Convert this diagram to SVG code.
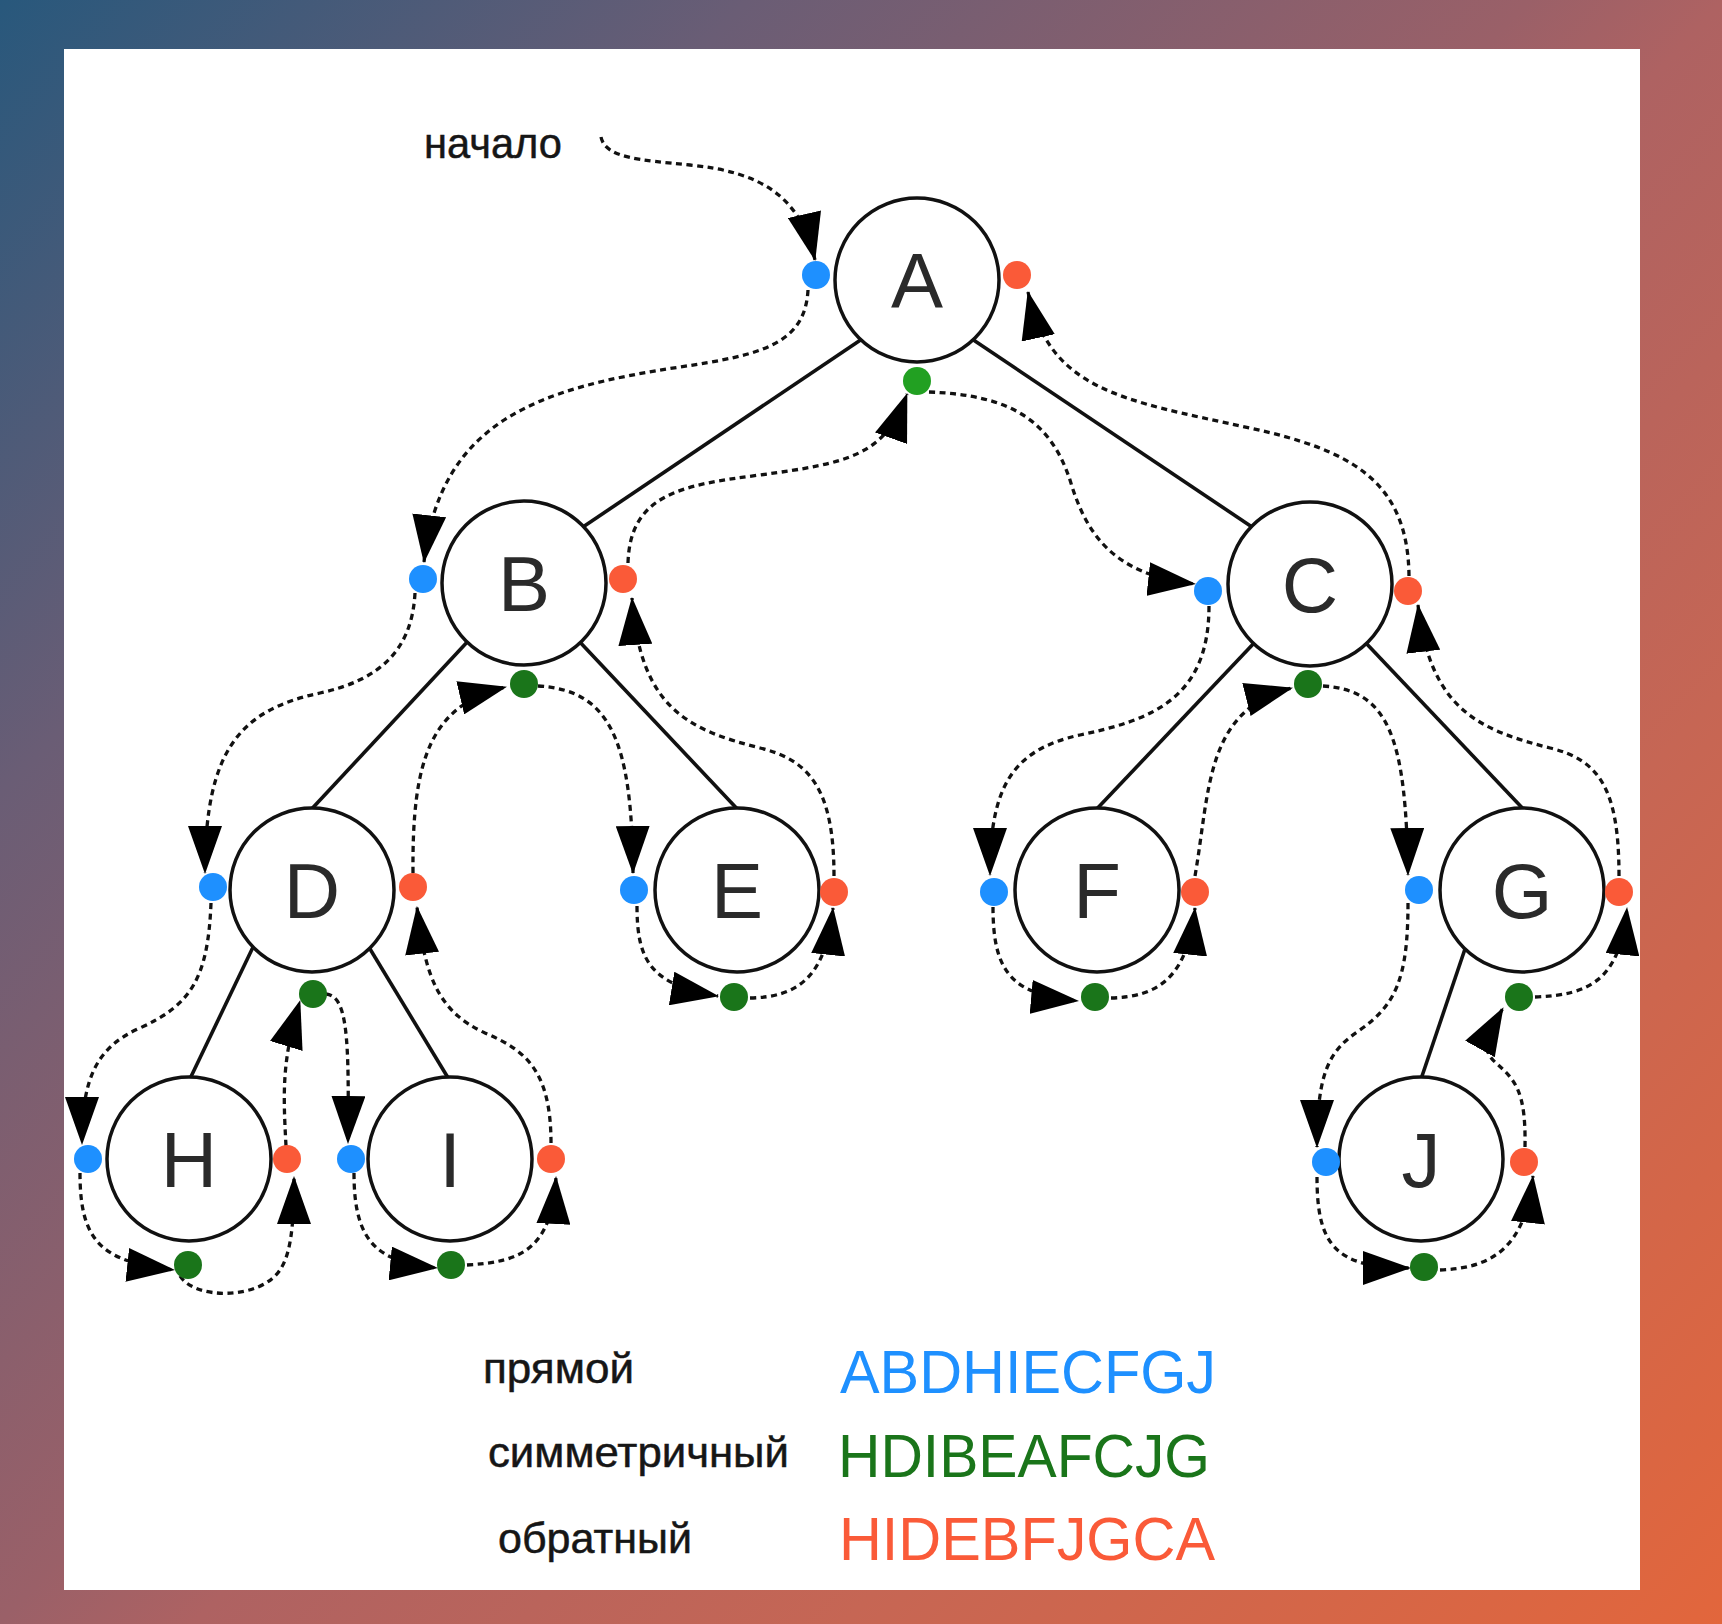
<svg xmlns="http://www.w3.org/2000/svg" width="1722" height="1624" viewBox="0 0 1722 1624">
<defs>
<linearGradient id="bg" x1="0" y1="0" x2="1722" y2="1624" gradientUnits="userSpaceOnUse">
<stop offset="0" stop-color="#28587c"/>
<stop offset="0.23" stop-color="#6a5d75"/>
<stop offset="0.47" stop-color="#9a6068"/>
<stop offset="0.53" stop-color="#ae6262"/>
<stop offset="0.73" stop-color="#c66654"/>
<stop offset="1" stop-color="#e2663c"/>
</linearGradient>
<marker id="ah" viewBox="0 0 48 34" markerWidth="48" markerHeight="34" refX="47" refY="17" orient="auto" markerUnits="userSpaceOnUse">
<path d="M0,0 L48,17 L0,34 Z" fill="#000"/>
</marker>
<style>
.edge{stroke:#111;stroke-width:3.6;fill:none}
.tour{stroke:#111;stroke-width:3.3;stroke-dasharray:6 4.5;fill:none;marker-end:url(#ah)}
.node{fill:#fff;stroke:#111;stroke-width:3.5}
.lbl{font-family:"Liberation Sans",Arial,sans-serif;font-size:78px;fill:#2a2a2a;text-anchor:middle}
.pre{fill:#1e90ff}
.in{fill:#1a751a}
.post{fill:#fa5a38}
.txt{font-family:"Liberation Sans",Arial,sans-serif;font-size:43px;fill:#161616;stroke:#161616;stroke-width:0.5}
.seq{font-family:"Liberation Sans",Arial,sans-serif;font-size:61px}
</style>
</defs>
<rect x="0" y="0" width="1722" height="1624" fill="url(#bg)"/>
<rect x="64" y="49" width="1576" height="1541" fill="#fff"/>

<g id="connectors">
<g id="edges">
<path class="edge" d="M865,337 L577,531"/>
<path class="edge" d="M969,337 L1258,531"/>
<path class="edge" d="M470,639 L307,814"/>
<path class="edge" d="M577,639 L742,814"/>
<path class="edge" d="M1256,641 L1092,814"/>
<path class="edge" d="M1364,641 L1528,814"/>
<path class="edge" d="M255,943 L187,1085"/>
<path class="edge" d="M367,944 L453,1086"/>
<path class="edge" d="M1466,946 L1419,1085"/>
</g>
<g id="traversal">
<path class="tour" d="M601,137 C605,158 640,160 690,165 C760,172 800,195 815,260"/>
<path class="tour" d="M808,290 C805,345 760,355 680,367 C540,388 440,420 424,562"/>
<path class="tour" d="M415,593 C412,650 380,680 320,693 C240,710 205,750 205,873"/>
<path class="tour" d="M211,903 C208,980 190,1005 140,1028 C95,1048 82,1080 82,1144"/>
<path class="tour" d="M80,1173 C80,1240 100,1262 174,1270"/>
<path class="tour" d="M180,1276 C195,1300 260,1300 280,1270 C290,1255 294,1230 294,1177"/>
<path class="tour" d="M286,1146 C283,1090 282,1060 300,1001"/>
<path class="tour" d="M326,994 C348,996 349,1040 348,1143"/>
<path class="tour" d="M354,1173 C354,1240 375,1262 437,1268"/>
<path class="tour" d="M467,1265 C520,1262 552,1250 556,1177"/>
<path class="tour" d="M551,1143 C551,1070 525,1050 485,1033 C440,1012 425,980 417,907"/>
<path class="tour" d="M413,873 C412,760 430,705 506,687"/>
<path class="tour" d="M538,686 C610,690 632,740 633,873"/>
<path class="tour" d="M637,906 C637,960 650,985 718,996"/>
<path class="tour" d="M750,998 C800,997 826,975 833,908"/>
<path class="tour" d="M834,876 C834,790 810,760 760,748 C690,730 640,710 632,598"/>
<path class="tour" d="M628,563 C630,495 680,485 760,475 C850,463 885,455 907,394"/>
<path class="tour" d="M929,392 C1010,395 1050,420 1070,480 C1085,530 1110,575 1195,584"/>
<path class="tour" d="M1209,606 C1209,700 1150,720 1080,735 C1010,750 990,790 990,875"/>
<path class="tour" d="M993,907 C993,970 1010,995 1078,1001"/>
<path class="tour" d="M1111,998 C1160,997 1188,975 1195,908"/>
<path class="tour" d="M1195,876 C1210,790 1205,710 1292,688"/>
<path class="tour" d="M1323,686 C1390,690 1406,740 1408,875"/>
<path class="tour" d="M1408,903 C1408,980 1395,1005 1360,1030 C1330,1050 1317,1070 1317,1147"/>
<path class="tour" d="M1317,1177 C1317,1245 1335,1268 1410,1268"/>
<path class="tour" d="M1440,1270 C1490,1268 1525,1250 1533,1176"/>
<path class="tour" d="M1525,1147 C1526,1090 1515,1080 1495,1062 C1482,1050 1485,1040 1503,1008"/>
<path class="tour" d="M1535,997 C1590,995 1620,980 1627,908"/>
<path class="tour" d="M1619,876 C1619,790 1600,760 1550,748 C1480,730 1430,710 1418,605"/>
<path class="tour" d="M1409,576 C1408,480 1350,450 1250,428 C1120,400 1050,390 1028,292"/>
</g>
</g>

<g id="node-A">
<circle class="node" cx="917" cy="280" r="82"/>
<text class="lbl" x="917" y="308">A</text>
<circle class="pre" cx="816" cy="275" r="14"/>
<circle class="post" cx="1017" cy="275" r="14"/>
<circle cx="917" cy="381" r="14" fill="#22a022"/>
</g>
<g id="node-B">
<circle class="node" cx="524" cy="583" r="82"/>
<text class="lbl" x="524" y="611">B</text>
<circle class="pre" cx="423" cy="579" r="14"/>
<circle class="post" cx="623" cy="579" r="14"/>
<circle class="in" cx="524" cy="684" r="14"/>
</g>
<g id="node-C">
<circle class="node" cx="1310" cy="584" r="82"/>
<text class="lbl" x="1310" y="612">C</text>
<circle class="pre" cx="1208" cy="591" r="14"/>
<circle class="post" cx="1408" cy="591" r="14"/>
<circle class="in" cx="1308" cy="684" r="14"/>
</g>
<g id="node-D">
<circle class="node" cx="312" cy="890" r="82"/>
<text class="lbl" x="312" y="918">D</text>
<circle class="pre" cx="213" cy="887" r="14"/>
<circle class="post" cx="413" cy="887" r="14"/>
<circle class="in" cx="313" cy="994" r="14"/>
</g>
<g id="node-E">
<circle class="node" cx="737" cy="890" r="82"/>
<text class="lbl" x="737" y="918">E</text>
<circle class="pre" cx="634" cy="890" r="14"/>
<circle class="post" cx="834" cy="892" r="14"/>
<circle class="in" cx="734" cy="997" r="14"/>
</g>
<g id="node-F">
<circle class="node" cx="1097" cy="890" r="82"/>
<text class="lbl" x="1097" y="918">F</text>
<circle class="pre" cx="994" cy="892" r="14"/>
<circle class="post" cx="1195" cy="892" r="14"/>
<circle class="in" cx="1095" cy="997" r="14"/>
</g>
<g id="node-G">
<circle class="node" cx="1522" cy="890" r="82"/>
<text class="lbl" x="1522" y="918">G</text>
<circle class="pre" cx="1419" cy="890" r="14"/>
<circle class="post" cx="1619" cy="892" r="14"/>
<circle class="in" cx="1519" cy="997" r="14"/>
</g>
<g id="node-H">
<circle class="node" cx="189" cy="1159" r="82"/>
<text class="lbl" x="189" y="1187">H</text>
<circle class="pre" cx="88" cy="1159" r="14"/>
<circle class="post" cx="287" cy="1159" r="14"/>
<circle class="in" cx="188" cy="1265" r="14"/>
</g>
<g id="node-I">
<circle class="node" cx="450" cy="1159" r="82"/>
<text class="lbl" x="450" y="1187">I</text>
<circle class="pre" cx="351" cy="1159" r="14"/>
<circle class="post" cx="551" cy="1159" r="14"/>
<circle class="in" cx="451" cy="1265" r="14"/>
</g>
<g id="node-J">
<circle class="node" cx="1421" cy="1159" r="82"/>
<text class="lbl" x="1421" y="1187">J</text>
<circle class="pre" cx="1326" cy="1162" r="14"/>
<circle class="post" cx="1524" cy="1162" r="14"/>
<circle class="in" cx="1424" cy="1267" r="14"/>
</g>

<g id="labels">
<text class="txt" x="424" y="158" font-size="44" textLength="138" lengthAdjust="spacingAndGlyphs">начало</text>
<text class="txt" x="483" y="1383" textLength="151" lengthAdjust="spacingAndGlyphs">прямой</text>
<text class="txt" x="488" y="1467" textLength="301" lengthAdjust="spacingAndGlyphs">симметричный</text>
<text class="txt" x="498" y="1553" textLength="194" lengthAdjust="spacingAndGlyphs">обратный</text>
<text class="seq pre" x="840" y="1393" textLength="376" lengthAdjust="spacingAndGlyphs">ABDHIECFGJ</text>
<text class="seq in" x="838" y="1477" textLength="372" lengthAdjust="spacingAndGlyphs">HDIBEAFCJG</text>
<text class="seq post" x="839" y="1560" textLength="376" lengthAdjust="spacingAndGlyphs">HIDEBFJGCA</text>
</g>
</svg>
